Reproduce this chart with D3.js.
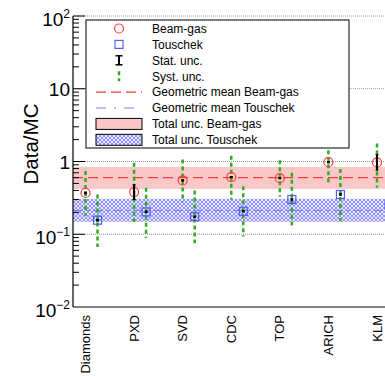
<!DOCTYPE html>
<html>
<head>
<meta charset="utf-8">
<script src="https://cdn.jsdelivr.net/npm/d3@7"></script>
<style>
  html, body { margin: 0; padding: 0; background: #fff; }
  svg { display: block; font-family: "Liberation Sans", Arial, Helvetica, sans-serif; }
</style>
</head>
<body>
<svg id="chart" width="385" height="376"></svg>
<script>
// Subdetector categories along the x axis
const categories = ["Diamonds", "PXD", "SVD", "CDC", "TOP", "ARICH", "KLM"];

// Beam-gas Data/MC ratios with statistical and systematic ranges
const beamGas        = [0.37, 0.38, 0.55, 0.61, 0.59, 0.98, 0.97];
const beamGasStatLo  = [0.36, 0.30, 0.54, 0.60, 0.58, 0.96, 0.76];
const beamGasStatHi  = [0.38, 0.48, 0.56, 0.62, 0.60, 1.00, 1.25];
const beamGasSystLo  = [0.18, 0.147, 0.276, 0.30, 0.327, 0.52, 0.435];
const beamGasSystHi  = [0.74, 0.96, 1.065, 1.20, 1.04, 1.43, 1.77];

// Touschek Data/MC ratios with statistical and systematic ranges
const touschek       = [0.156, 0.203, 0.174, 0.207, 0.30, 0.352, 0.25];
const touschekStatLo = [0.152, 0.198, 0.170, 0.202, 0.293, 0.344, 0.24];
const touschekStatHi = [0.160, 0.208, 0.178, 0.212, 0.307, 0.360, 0.26];
const touschekSystLo = [0.067, 0.089, 0.075, 0.093, 0.132, 0.151, 0.11];
const touschekSystHi = [0.352, 0.435, 0.40, 0.457, 0.70, 0.79, 0.55];

// Geometric means and their total uncertainty bands
const meanBeamGas = 0.60, meanBeamGasLo = 0.42, meanBeamGasHi = 0.845;
const meanTouschek = 0.212, meanTouschekLo = 0.148, meanTouschekHi = 0.307;

// Y axis decade labels: [value, mantissa, exponent]
const yTickLabels = [[0.01, "10", "\u22122"], [0.1, "10", "\u22121"], [1, "1", ""], [10, "10", ""], [100, "10", "2"]];

// Legend entries
const legendLabels = ["Beam-gas", "Touschek", "Stat. unc.", "Syst. unc.",
  "Geometric mean Beam-gas", "Geometric mean Touschek", "Total unc. Beam-gas", "Total unc. Touschek"];

const svg = d3.select("#chart");
const x0 = 73, x1 = 420, yTop = 16, yBot = 307;
const red = "#ff3b3b", blue = "#5a5aff", green = "#33aa22";
const offset = 12;

const x = d3.scalePoint().domain(categories).range([85.5, 377]);
const y = d3.scaleLog().domain([0.01, 100]).range([yBot, yTop]);

// Crosshatch for the Touschek band
const defs = svg.append("defs");
const pat = defs.append("pattern").attr("id", "hatch").attr("patternUnits", "userSpaceOnUse")
  .attr("width", 4).attr("height", 4);
pat.append("rect").attr("width", 4).attr("height", 4).attr("fill", "#e6e6ff");
pat.append("path").attr("d", "M0,0 L4,4 M4,0 L0,4").attr("stroke", "#8a8aff").attr("stroke-width", 0.9);

const plot = svg.append("g");

// Total uncertainty bands
plot.append("rect").attr("x", x0).attr("width", x1 - x0)
  .attr("y", y(meanBeamGasHi)).attr("height", y(meanBeamGasLo) - y(meanBeamGasHi))
  .attr("fill", "#fac8c8");
plot.append("rect").attr("x", x0).attr("width", x1 - x0)
  .attr("y", y(meanTouschekHi)).attr("height", y(meanTouschekLo) - y(meanTouschekHi))
  .attr("fill", "url(#hatch)");

// Decade grid lines
plot.selectAll("line.grid").data([0.1, 1, 10, 100]).join("line")
  .attr("class", "grid")
  .attr("x1", x0).attr("x2", x1).attr("y1", d => y(d)).attr("y2", d => y(d))
  .attr("stroke", "#9a9a9a").attr("stroke-width", 1).attr("stroke-dasharray", "1,1");

// Geometric mean lines
plot.append("line").attr("x1", x0).attr("x2", x1)
  .attr("y1", y(meanBeamGas)).attr("y2", y(meanBeamGas))
  .attr("stroke", red).attr("stroke-width", 1.2).attr("stroke-dasharray", "10,5");
plot.append("line").attr("x1", x0).attr("x2", x1)
  .attr("y1", y(meanTouschek)).attr("y2", y(meanTouschek))
  .attr("stroke", "#7b7bff").attr("stroke-width", 1.2).attr("stroke-dasharray", "10,4,2,4");

// Axes
const yAxisG = svg.append("g");
yAxisG.append("line").attr("x1", x0).attr("x2", x0).attr("y1", yTop).attr("y2", yBot)
  .attr("stroke", "#000").attr("stroke-width", 1.2);
svg.append("line").attr("x1", x0).attr("x2", x1).attr("y1", yBot).attr("y2", yBot)
  .attr("stroke", "#000").attr("stroke-width", 1.2);

const minor = [];
for (let e = -2; e < 2; e++) for (let m = 2; m <= 9; m++) minor.push(m * Math.pow(10, e));
yAxisG.selectAll("line.minor").data(minor).join("line").attr("class", "minor")
  .attr("x1", x0).attr("x2", x0 + 6).attr("y1", d => y(d)).attr("y2", d => y(d))
  .attr("stroke", "#000").attr("stroke-width", 1);
yAxisG.selectAll("line.major").data(yTickLabels.map(d => d[0]).filter(v => v > 0.01)).join("line").attr("class", "major")
  .attr("x1", x0).attr("x2", x0 + 12).attr("y1", d => y(d)).attr("y2", d => y(d))
  .attr("stroke", "#000").attr("stroke-width", 1);

const tl = yAxisG.selectAll("text.tick").data(yTickLabels).join("text").attr("class", "tick")
  .attr("x", 70).attr("y", d => y(d[0]) + (d[2] ? 10 : 7))
  .attr("text-anchor", "end").attr("font-size", 19).attr("fill", "#000");
tl.append("tspan").text(d => d[1]);
tl.filter(d => d[2]).append("tspan").attr("font-size", 12).attr("dy", -8).text(d => d[2]);

// Y axis title
svg.append("text").attr("transform", "translate(38,144) rotate(-90)")
  .attr("text-anchor", "middle").attr("font-size", 20.5).text("Data/MC");

// Category labels
svg.selectAll("text.cat").data(categories).join("text").attr("class", "cat")
  .attr("transform", d => `translate(${x(d) + 4.5},315) rotate(-90)`)
  .attr("text-anchor", "end").attr("font-size", 13).text(d => d);

// Systematic uncertainties
function syst(vals, lo, hi, dx) {
  plot.append("g").selectAll("line").data(vals).join("line")
    .attr("x1", (d, i) => x(categories[i]) + dx).attr("x2", (d, i) => x(categories[i]) + dx)
    .attr("y1", (d, i) => y(hi[i])).attr("y2", (d, i) => y(lo[i]))
    .attr("stroke", green).attr("stroke-width", 2.5).attr("stroke-dasharray", "4,3");
}
syst(beamGas, beamGasSystLo, beamGasSystHi, 0);
syst(touschek, touschekSystLo, touschekSystHi, offset);

// Markers
plot.append("g").selectAll("circle").data(beamGas).join("circle")
  .attr("cx", (d, i) => x(categories[i])).attr("cy", d => y(d)).attr("r", 4.5)
  .attr("fill", "none").attr("stroke", red).attr("stroke-width", 1.2);
plot.append("g").selectAll("rect").data(touschek).join("rect")
  .attr("x", (d, i) => x(categories[i]) + offset - 4).attr("y", d => y(d) - 4)
  .attr("width", 8).attr("height", 8)
  .attr("fill", "none").attr("stroke", blue).attr("stroke-width", 1.2);

// Statistical uncertainties
function stat(vals, lo, hi, dx) {
  const g = plot.append("g");
  vals.forEach((v, i) => {
    const cx = x(categories[i]) + dx;
    g.append("line").attr("x1", cx).attr("x2", cx).attr("y1", y(hi[i])).attr("y2", y(lo[i]))
      .attr("stroke", "#000").attr("stroke-width", 2);
    g.append("rect").attr("x", cx - 1).attr("y", y(v) - 1).attr("width", 2).attr("height", 2).attr("fill", "#000");
    [hi[i], lo[i]].forEach(e => g.append("line").attr("x1", cx - 1.5).attr("x2", cx + 1.5)
      .attr("y1", y(e)).attr("y2", y(e)).attr("stroke", "#000").attr("stroke-width", 1));
  });
}
stat(beamGas, beamGasStatLo, beamGasStatHi, 0);
stat(touschek, touschekStatLo, touschekStatHi, offset);

// Legend
const lg = svg.append("g");
lg.append("rect").attr("x", 86).attr("y", 20).attr("width", 263).attr("height", 128)
  .attr("fill", "#fff").attr("stroke", "#000").attr("stroke-width", 1);
const rowY = i => 28.5 + i * 15.9;
const sx = 119;
lg.selectAll("text").data(legendLabels).join("text")
  .attr("x", 152).attr("y", (d, i) => rowY(i) + 4.3).attr("font-size", 12).text(d => d);
lg.append("circle").attr("cx", sx).attr("cy", rowY(0)).attr("r", 4.5)
  .attr("fill", "none").attr("stroke", red).attr("stroke-width", 1.2);
lg.append("rect").attr("x", sx - 4).attr("y", rowY(1) - 4).attr("width", 8).attr("height", 8)
  .attr("fill", "none").attr("stroke", blue).attr("stroke-width", 1.2);
lg.append("line").attr("x1", sx).attr("x2", sx).attr("y1", rowY(2) - 4.5).attr("y2", rowY(2) + 4.5)
  .attr("stroke", "#000").attr("stroke-width", 2);
[-4.5, 4.5].forEach(o => lg.append("line").attr("x1", sx - 3.5).attr("x2", sx + 3.5)
  .attr("y1", rowY(2) + o).attr("y2", rowY(2) + o).attr("stroke", "#000").attr("stroke-width", 1.5));
lg.append("line").attr("x1", sx).attr("x2", sx).attr("y1", rowY(3) - 5).attr("y2", rowY(3) + 5)
  .attr("stroke", green).attr("stroke-width", 2.5).attr("stroke-dasharray", "4,3");
lg.append("line").attr("x1", 96).attr("x2", 142).attr("y1", rowY(4)).attr("y2", rowY(4))
  .attr("stroke", red).attr("stroke-width", 1.2).attr("stroke-dasharray", "10,5");
lg.append("line").attr("x1", 96).attr("x2", 142).attr("y1", rowY(5)).attr("y2", rowY(5))
  .attr("stroke", "#7b7bff").attr("stroke-width", 1.2).attr("stroke-dasharray", "10,8,2,8");
lg.append("rect").attr("x", 96).attr("y", rowY(6) - 5.5).attr("width", 46).attr("height", 11)
  .attr("fill", "#fac8c8").attr("stroke", "#000").attr("stroke-width", 1);
lg.append("rect").attr("x", 96).attr("y", rowY(7) - 5.5).attr("width", 46).attr("height", 11)
  .attr("fill", "url(#hatch)").attr("stroke", "#000").attr("stroke-width", 1);
</script>
</body>
</html>
